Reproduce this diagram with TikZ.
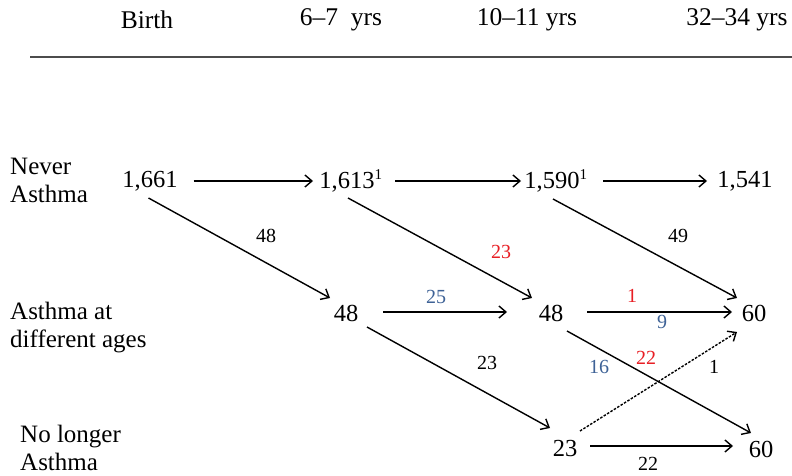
\documentclass[tikz,border=0pt]{standalone}
\usepackage{fontspec}
\setmainfont{Liberation Serif}
\usetikzlibrary{arrows.meta}
\definecolor{lblred}{RGB}{232,30,36}
\definecolor{lblblue}{RGB}{62,98,150}
\begin{document}
\begin{tikzpicture}[x=1pt,y=-1pt,
  head/.style={font=\fontsize{25.5}{28}\selectfont, inner sep=0pt},
  rowlab/.style={font=\fontsize{25}{28}\selectfont, align=left, anchor=west, inner sep=0pt},
  num/.style={font=\fontsize{24.5}{28}\selectfont, inner sep=0pt},
  lab/.style={font=\fontsize{20}{22}\selectfont, inner sep=0pt},
  arr/.style={line width=1.4pt, -{Straight Barb[length=7pt,width=12pt,line width=1.4pt]}},
  dotarr/.style={arr, dash pattern=on 2.5pt off 1.5pt}
]
\useasboundingbox (0,0) rectangle (792,476);
% headers
\node[head] (h1) at (147,20) {Birth};
\node[head] (h2) at (341,20) {6–7\ \ yrs};
\node[head] (h3) at (527,20) {10–11 yrs};
\node[head] (h4) at (737,20) {32–34 yrs};
\coordinate (rl) at (30,57);
\coordinate (rr) at (792,57);
\draw[line width=1.4pt, black!70] (rl) -- (rr);
% row labels
\node[rowlab] (r1) at (10,180) {Never\\Asthma};
\node[rowlab] (r2) at (10,327.5) {Asthma at\\different ages};
\node[rowlab] (r3) at (20,448) {No longer\\Asthma};
% numbers
\node[num] (n1) at (150,181) {1,661};
\node[num] (n2) at (351,181) {1,613\textsuperscript{\fontsize{15}{15}\selectfont 1}};
\node[num] (n3) at (556,181) {1,590\textsuperscript{\fontsize{15}{15}\selectfont 1}};
\node[num] (n4) at (745,181) {1,541};
\node[num] (m2) at (346,313) {48};
\node[num] (m3) at (551,313) {48};
\node[num] (m4) at (754,313) {60};
\node[num] (b3) at (565,449) {23};
\node[num] (b4) at (761,449) {60};
% arrows
\draw[arr] ([shift={(43.5,0)}]n1.center) -- ([shift={(-38,0)}]n2.center);
\draw[arr] ([shift={(44,0)}]n2.center) -- ([shift={(-35,0)}]n3.center);
\draw[arr] ([shift={(47,0)}]n3.center) -- ([shift={(-38,0)}]n4.center);
\draw[arr] ([shift={(-1.5,17)}]n1.center) -- ([shift={(-16,-15)}]m2.center);
\draw[arr] ([shift={(-3,17)}]n2.center) -- ([shift={(-19,-15)}]m3.center);
\draw[arr] ([shift={(-3,18)}]n3.center) -- ([shift={(-17,-15)}]m4.center);
\draw[arr] ([shift={(37,-1)}]m2.center) -- ([shift={(-44,-1)}]m3.center);
\draw[arr] ([shift={(36,-1)}]m3.center) -- ([shift={(-22,-1)}]m4.center);
\draw[arr] ([shift={(21,14)}]m2.center) -- ([shift={(-15,-21)}]b3.center);
\draw[arr] ([shift={(16,18)}]m3.center) -- ([shift={(-10,-16)}]b4.center);
\draw[dotarr] ([shift={(15,-18)}]b3.center) -- ([shift={(-17,19)}]m4.center);
\draw[arr] ([shift={(25,-3)}]b3.center) -- ([shift={(-28,-3)}]b4.center);
% edge labels
\node[lab] (l1) at (266,236) {48};
\node[lab, text=lblred] (l2) at (501,252) {23};
\node[lab] (l3) at (678,236) {49};
\node[lab, text=lblblue] (l4) at (436,297) {25};
\node[lab, text=lblred] (l5) at (632,296) {1};
\node[lab, text=lblblue] (l6) at (662,322) {9};
\node[lab] (l7) at (487,363) {23};
\node[lab, text=lblblue] (l8) at (599,367) {16};
\node[lab, text=lblred] (l9) at (646,358) {22};
\node[lab] (l10) at (714,367) {1};
\node[lab] (l11) at (648,464) {22};
\end{tikzpicture}
\end{document}
